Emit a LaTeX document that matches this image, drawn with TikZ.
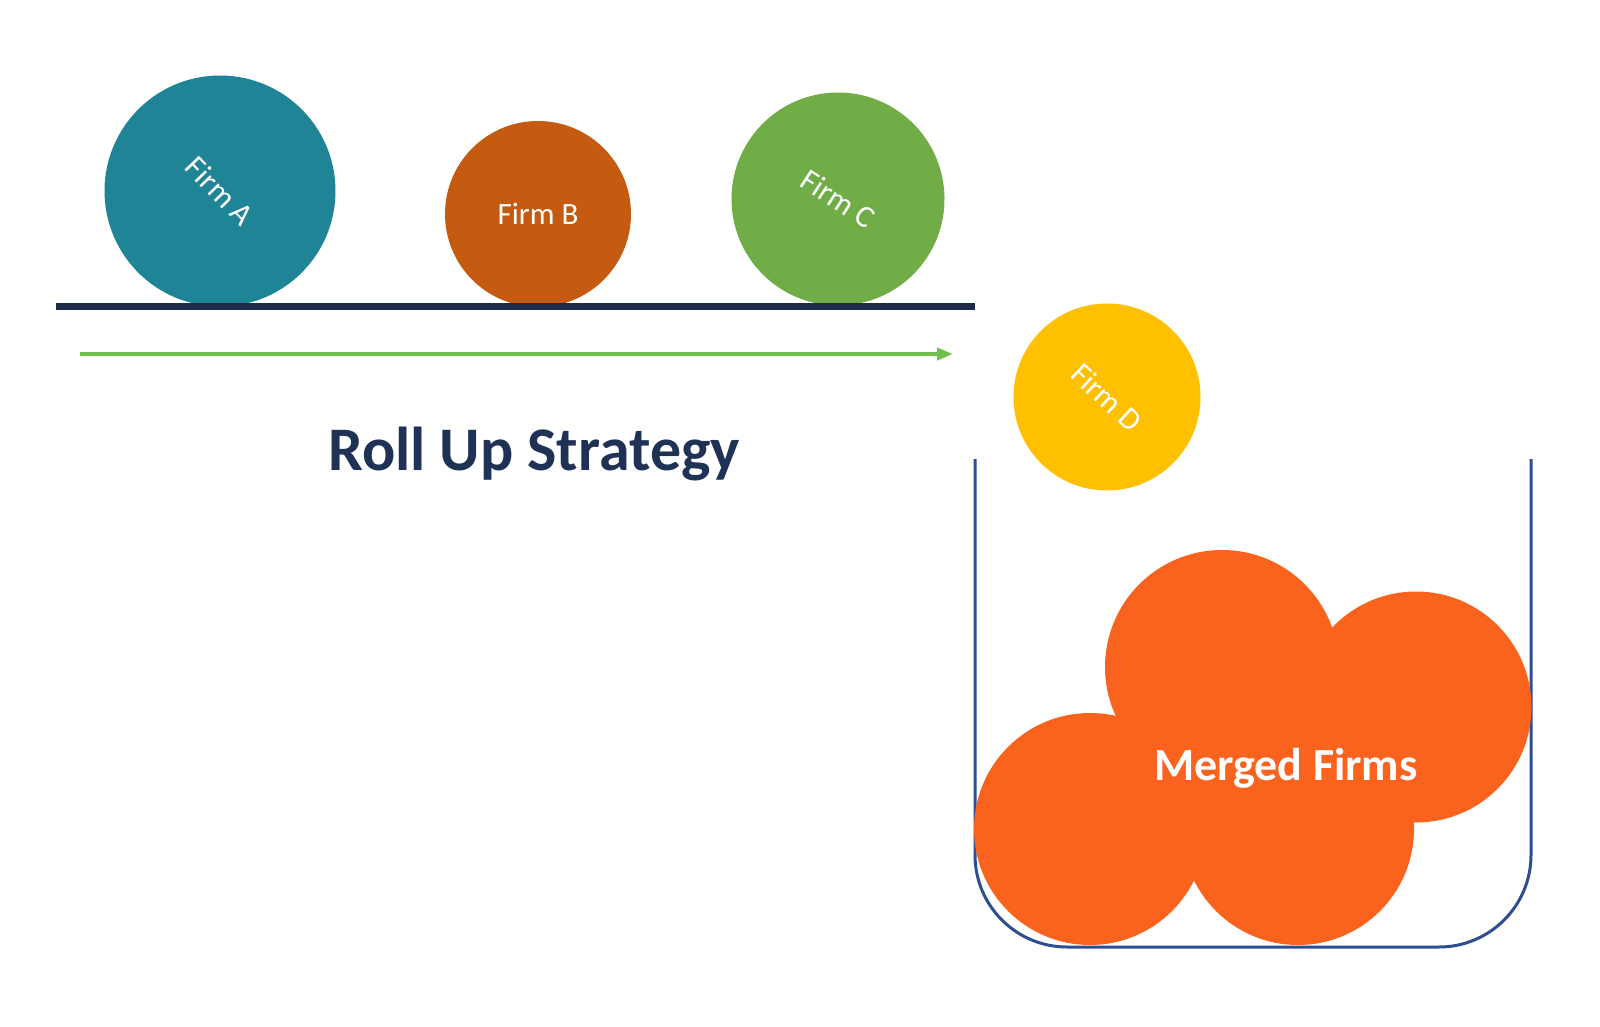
\documentclass[tikz,border=0pt]{standalone}
\usepackage{fontspec}
\setmainfont{Carlito}
\usetikzlibrary{arrows.meta}
\definecolor{firmA}{RGB}{31,132,150}
\definecolor{firmB}{RGB}{197,90,17}
\definecolor{firmC}{RGB}{112,173,71}
\definecolor{firmD}{RGB}{255,192,0}
\definecolor{merged}{RGB}{249,99,30}
\definecolor{barcol}{RGB}{28,44,72}
\definecolor{titlecol}{RGB}{31,50,86}
\definecolor{jarcol}{RGB}{47,78,146}
\definecolor{arrowcol}{RGB}{112,192,78}
\begin{document}
\begin{tikzpicture}[x=1pt,y=-1pt,
  firm/.style={circle,inner sep=0pt,text=white,font=\fontsize{31}{33}\selectfont},
  mergedball/.style={circle,inner sep=0pt,fill=merged},
  jarline/.style={draw=jarcol,line width=3pt,rounded corners=92pt}]
\useasboundingbox[fill=white] (0,0) rectangle (1600,1027);
% firms on the shelf
\node[firm,fill=firmA,minimum size=231pt,rotate=-46] (A) at (220,191) {Firm A};
\node[firm,fill=firmB,minimum size=186pt] (B) at (538,214) {Firm B};
\node[firm,fill=firmC,minimum size=213pt,rotate=-33] (C) at (838,199) {Firm C};
\node[firm,fill=firmD,minimum size=187pt,rotate=-43] (D) at (1107,397) {Firm D};
% shelf
\node[fill=barcol,inner sep=0pt,minimum width=919pt,minimum height=7pt] (bar) at (515.5,306) {};
% arrow
\coordinate (arrS) at (80,354);
\coordinate (arrE) at (953,354);
\draw[arrowcol,line width=4pt,-{Triangle[length=16pt,width=12pt]}] (arrS) -- (arrE);
% title
\node[font=\bfseries\fontsize{62}{66}\selectfont,text=titlecol] (T) at (534,454) {Roll Up Strategy};
% jar
\coordinate (jarTL) at (975,459);
\coordinate (jarTR) at (1531,459);
\draw[jarline] (jarTL) -- (975,947) -- (1531,947) -- (jarTR);
% merged firms
\node[mergedball,minimum size=234pt] (M1) at (1222,667) {};
\node[mergedball,minimum size=231pt] (M2) at (1416,707) {};
\node[mergedball,minimum size=232pt] (M3) at (1090,829) {};
\node[mergedball,minimum size=232pt] (M4) at (1298,829) {};
\node[font=\bfseries\fontsize{46}{50}\selectfont,text=white] (MT) at (1286,768) {Merged Firms};
\end{tikzpicture}
\end{document}
